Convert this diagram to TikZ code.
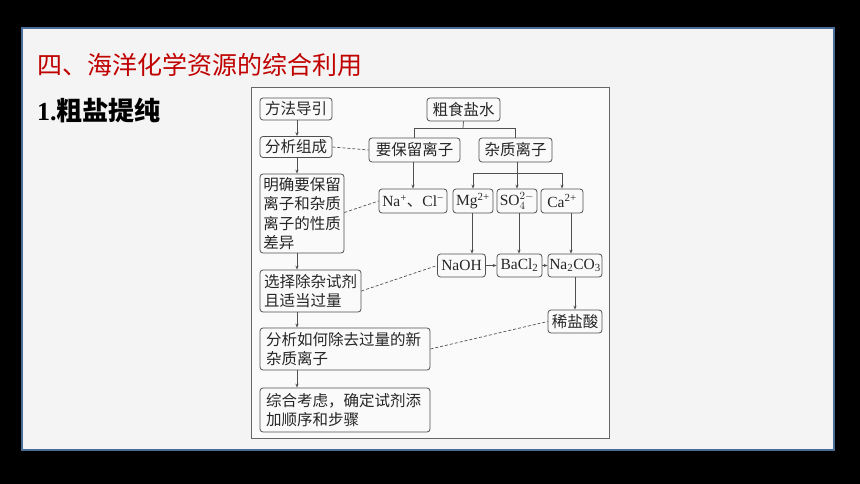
\documentclass[tikz,border=0pt]{standalone}
\usepackage{fontspec}
\setmainfont{Noto Sans CJK SC}
\newfontfamily\lat{Liberation Serif}
\usetikzlibrary{arrows.meta,calc}
\definecolor{panelbg}{HTML}{F4F4F4}
\definecolor{panelbd}{HTML}{4A6E9C}
\definecolor{titlered}{HTML}{C00000}
\definecolor{ln}{HTML}{505050}
\begin{document}
\begin{tikzpicture}[x=1pt,y=-1pt,
  box/.style={draw=ln,line width=0.8pt,rounded corners=3pt,inner sep=0pt,align=left,
    font=\fontsize{15.5}{19.3}\selectfont,text=black!85},
  arr/.style={draw=ln,line width=0.7pt,-{Stealth[length=4pt,width=3.2pt]}},
  ln/.style={draw=ln,line width=0.7pt},
  dsh/.style={draw=ln,line width=0.7pt,dashed,dash pattern=on 3pt off 2pt}]
\fill[black] (0,0) rectangle (860,484);
\path[use as bounding box] (0,0) rectangle (860,484);
\draw[panelbd,line width=1.5pt,fill=panelbg] (22,28) rectangle (834,450);
\node[anchor=west,text=titlered,font=\fontsize{25}{25}\selectfont,inner sep=0pt] (title) at (37,65) {四、海洋化学资源的综合利用};
\node[anchor=west,font=\fontsize{26}{26}\selectfont\bfseries,inner sep=0pt] (sub) at (37,110) {{\lat 1.}粗盐提纯};
\draw[draw=black!60,line width=0.8pt,fill=black!2] (251,87) rectangle (609,438);
% nodes
\node[box,minimum width=72,minimum height=22] (fangfa) at (296,109) {方法导引};
\node[box,minimum width=73,minimum height=23] (cushi) at (463.5,109.5) {粗食盐水};
\node[box,minimum width=72,minimum height=21] (fenxi) at (296,147) {分析组成};
\node[box,minimum width=91,minimum height=24] (baoliu) at (414.5,150) {要保留离子};
\node[box,minimum width=73,minimum height=24] (zazhi) at (515.5,150) {杂质离子};
\node[box,minimum width=84,minimum height=79] (mingque) at (302,213.5) {明确要保留\\离子和杂质\\离子的性质\\差异};
\node[box,minimum width=68,minimum height=24] (na) at (413,201) {{\lat Na\textsuperscript{+}}、{\lat Cl\textsuperscript{−}}};
\node[box,minimum width=40,minimum height=24] (mg) at (473,201) {\lat Mg\textsuperscript{2+}};
\node[box,minimum width=40,minimum height=24] (so4) at (517,201) {{\lat SO}$_4^{2-}$};
\node[box,minimum width=42,minimum height=24] (ca) at (562,201) {\lat Ca\textsuperscript{2+}};
\node[box,minimum width=48,minimum height=23] (naoh) at (461.5,265.5) {\lat NaOH};
\node[box,minimum width=45,minimum height=23] (bacl) at (519.5,265.5) {\lat BaCl\textsubscript{2}};
\node[box,minimum width=54,minimum height=23] (naco) at (575,265.5) {\lat Na\textsubscript{2}CO\textsubscript{3}};
\node[box,minimum width=54,minimum height=23] (xiyan) at (575,321.5) {稀盐酸};
\node[box,minimum width=101,minimum height=42] (xuanze) at (310.5,291) {选择除杂试剂\\且适当过量};
\node[box,minimum width=170,minimum height=42,text width=158] (ruhe) at (345,349) {分析如何除去过量的新\\杂质离子};
\node[box,minimum width=170,minimum height=44,text width=158] (zonghe) at (345,410) {综合考虑，确定试剂添\\加顺序和步骤};
% left spine
\coordinate (spine) at (297,0);
\draw[arr] (fangfa.south -| spine) -- (fenxi.north -| spine);
\draw[arr] (fenxi.south -| spine) -- (mingque.north -| spine);
\draw[arr] (mingque.south -| spine) -- (xuanze.north -| spine);
\draw[arr] (xuanze.south -| spine) -- (ruhe.north -| spine);
\draw[arr] (ruhe.south -| spine) -- (zonghe.north -| spine);
% tree
\coordinate (j1) at (463,128);
\draw[ln] (cushi.south) -- (j1);
\draw[ln] (baoliu.north) -- (baoliu.north |- j1) -- (zazhi.north |- j1) -- (zazhi.north);
\draw[arr] (baoliu.south -| na.north) -- (na.north);
\coordinate (j2) at (517,173);
\draw[ln] (zazhi.south -| j2) -- (j2);
\draw[ln] (mg.north |- j2) -- (ca.north |- j2);
\draw[arr] (mg.north |- j2) -- (mg.north);
\draw[arr] (so4.north |- j2) -- (so4.north);
\draw[arr] (ca.north |- j2) -- (ca.north);
\coordinate (c1) at (472,0);
\coordinate (c2) at (519,0);
\coordinate (c3) at (571,0);
\draw[arr] (mg.south -| c1) -- (naoh.north -| c1);
\draw[arr] (so4.south -| c2) -- (bacl.north -| c2);
\draw[arr] (ca.south -| c3) -- (naco.north -| c3);
\draw[arr] (naoh.east) -- (bacl.west);
\draw[arr] (bacl.east) -- (naco.west);
\draw[arr] (naco.south) -- (xiyan.north);
% dashed
\draw[dsh] (fenxi.east) -- (baoliu.west);
\draw[dsh] ($(mingque.east)+(0,-1)$) -- (na.west);
\draw[dsh] (xuanze.east) -- (naoh.west);
\draw[dsh] (ruhe.east) -- (xiyan.west);
\end{tikzpicture}
\end{document}
